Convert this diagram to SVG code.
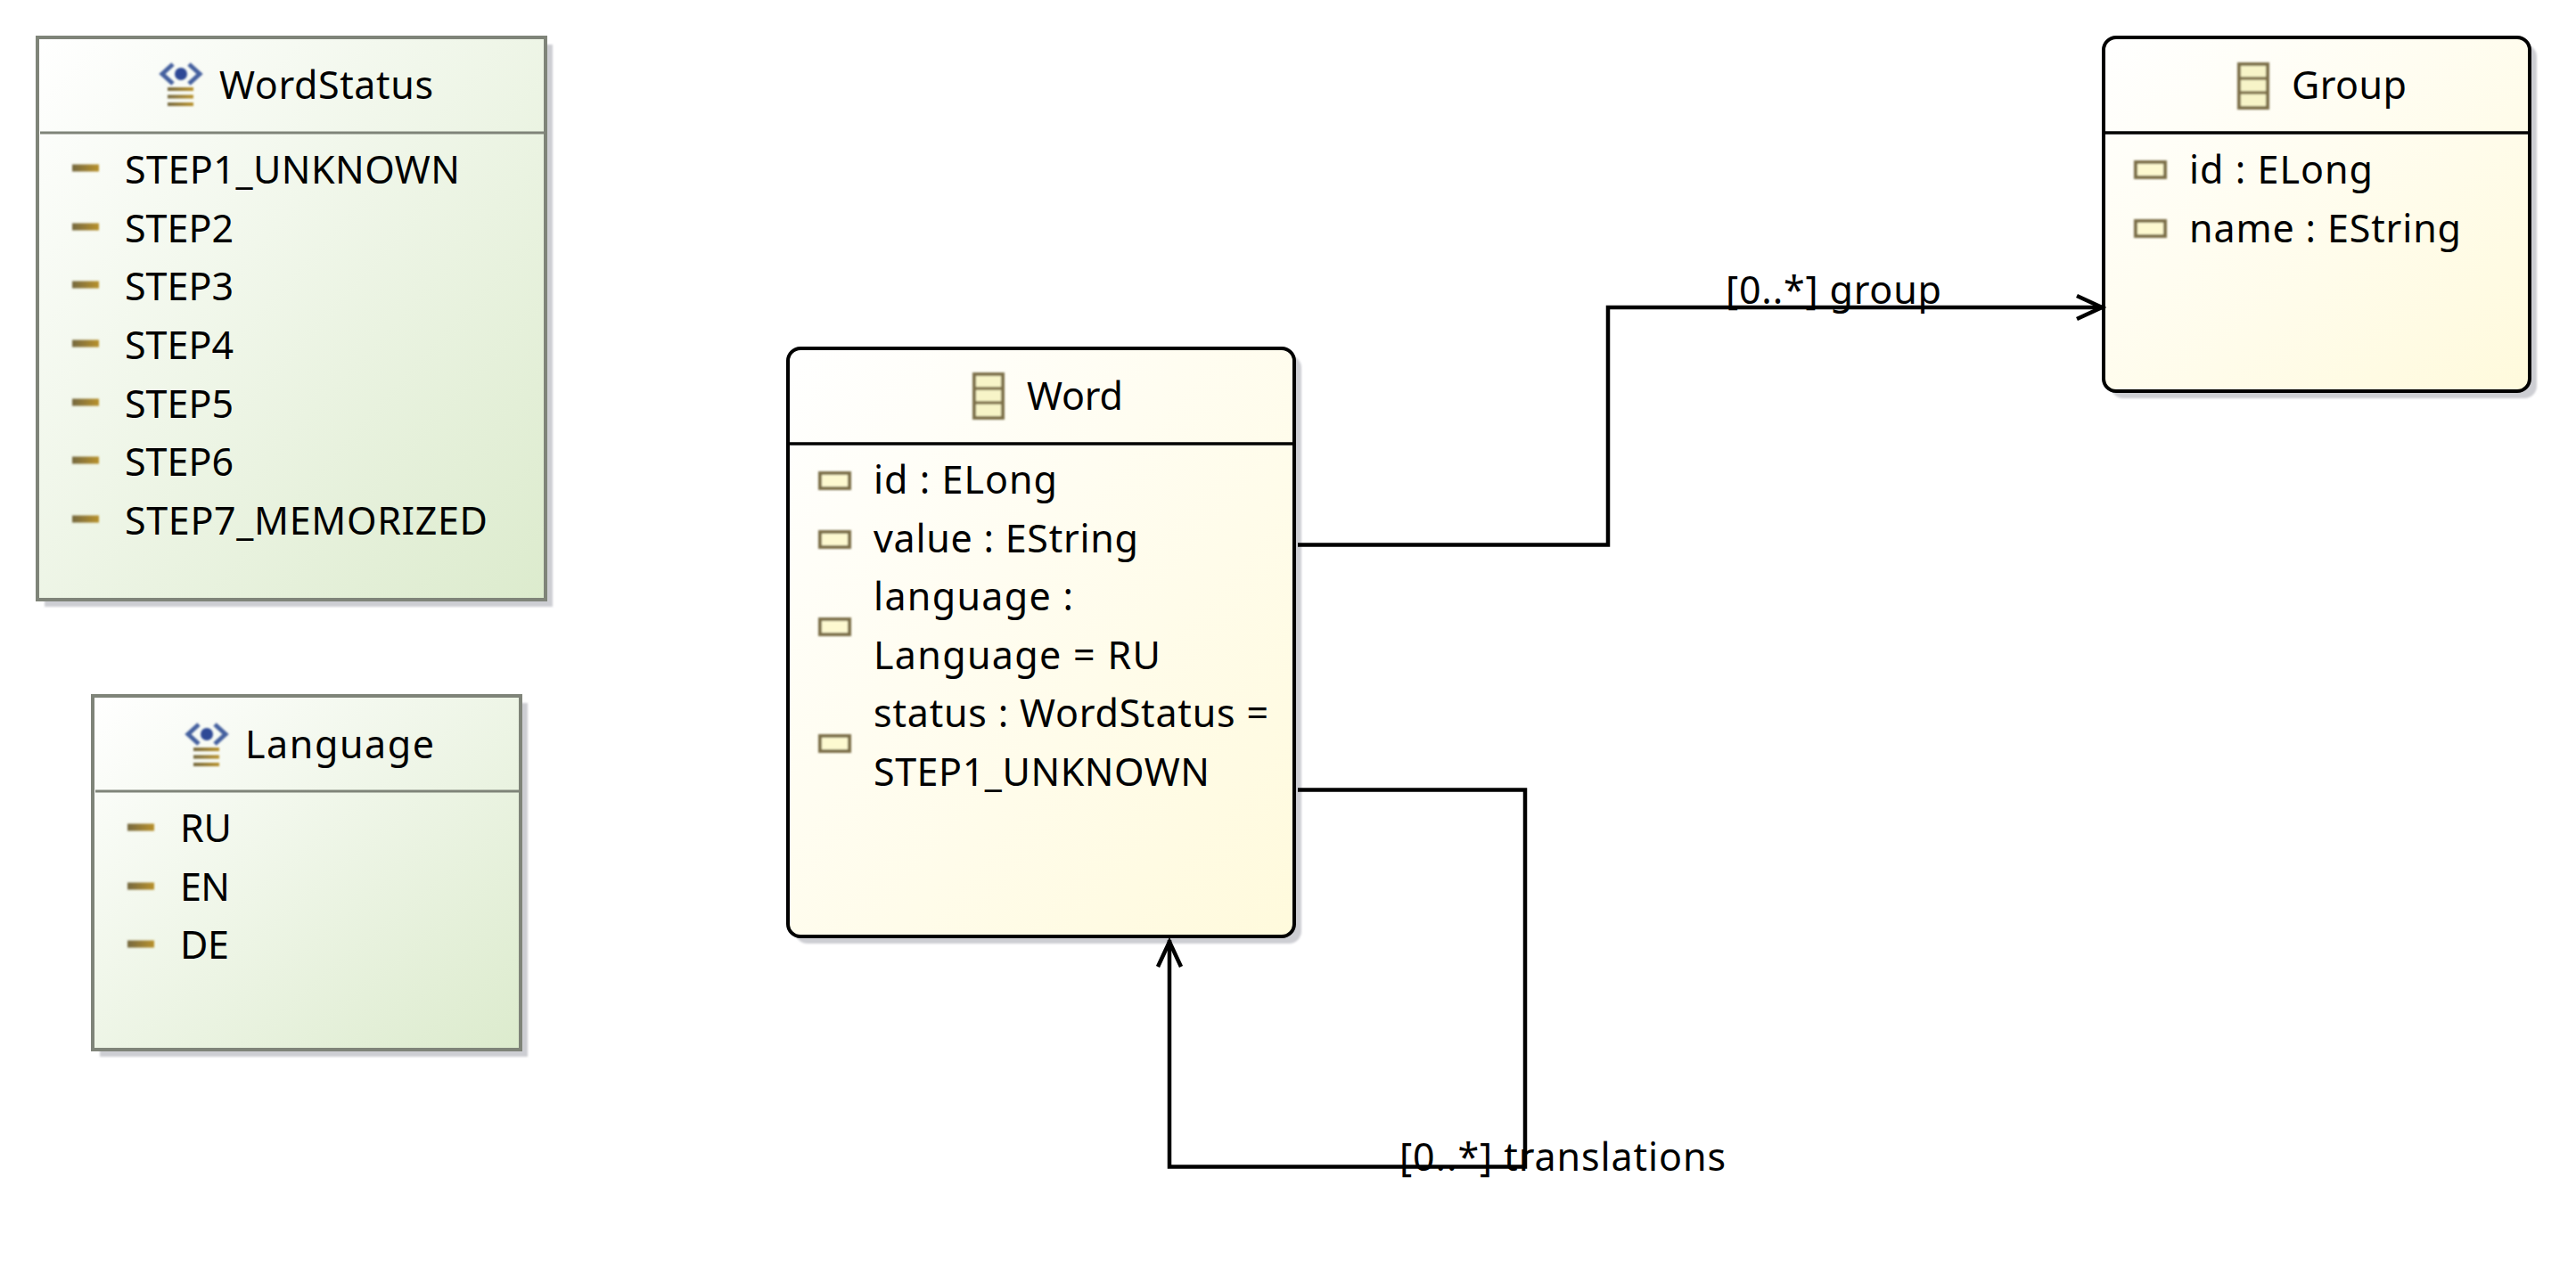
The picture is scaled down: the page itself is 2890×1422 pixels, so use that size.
<svg xmlns="http://www.w3.org/2000/svg" width="2890" height="1422" viewBox="0 0 2890 1422">
<style>
text{font-family:"Noto Sans","Open Sans",sans-serif;font-size:43px;fill:#000}
.shadow{fill:#cdced3}
.enum{fill:url(#green);stroke:#7f8479;stroke-width:4}
.cls{fill:url(#yellow);stroke:#000;stroke-width:4}
.dg{stroke:#7f8479;stroke-width:3}
.db{stroke:#000;stroke-width:3.5}
.conn{fill:none;stroke:#000;stroke-width:4.5}
</style>
<defs>
<linearGradient id="green" x1="0" y1="0" x2="1" y2="1"><stop offset="0" stop-color="#fff"/><stop offset="1" stop-color="#dcebcd"/></linearGradient>
<linearGradient id="yellow" x1="0" y1="0" x2="1" y2="1"><stop offset="0" stop-color="#fff"/><stop offset="1" stop-color="#fffadc"/></linearGradient>
<linearGradient id="gold" x1="0" y1="0" x2="1" y2="0"><stop offset="0" stop-color="#75683f"/><stop offset="1" stop-color="#b8912c"/></linearGradient>
<linearGradient id="goldUser" gradientUnits="userSpaceOnUse" x1="-15" y1="0" x2="14" y2="0"><stop offset="0" stop-color="#75683f"/><stop offset="1" stop-color="#b8912c"/></linearGradient>
<filter id="soft" x="-20%" y="-20%" width="140%" height="140%"><feGaussianBlur stdDeviation="0.9"/></filter>
<filter id="shblur" x="-5%" y="-5%" width="110%" height="110%"><feGaussianBlur stdDeviation="1"/></filter>
<g id="lit" filter="url(#soft)"><rect x="0" y="-0.500" width="30" height="8" fill="url(#gold)"/></g>
<g id="attr" filter="url(#soft)"><rect x="2" y="2" width="33" height="17" fill="#fdf9d0" stroke="#7d7048" stroke-width="4"/></g>
<g id="clsicon" filter="url(#soft)"><rect x="2" y="2" width="32" height="49" fill="#f7f4c8" stroke="#7d7048" stroke-width="4"/><path d="M2 18H34M2 34H34" stroke="#7d7048" stroke-width="3.500" fill="none"/></g>
<g id="enumicon" filter="url(#soft)"><circle cx="0" cy="0" r="7" fill="#2d4a96"/><path d="M-9 -11L-21 0L-9 11M9 -11L21 0L9 11" fill="none" stroke="#45609f" stroke-width="5"/><path d="M-15 17H14M-15 25.500H14M-15 34H14" stroke="url(#goldUser)" stroke-width="4" fill="none"/></g>
<marker id="open" markerUnits="userSpaceOnUse" markerWidth="36" markerHeight="32" refX="33" refY="16" orient="auto"><path d="M3 3L31 16L3 29" fill="none" stroke="#000" stroke-width="4.500"/></marker>
</defs>
<rect width="2890" height="1422" fill="#fff"/>
<g id="WordStatus">
<rect class="shadow" filter="url(#shblur)" x="50" y="50" width="570" height="631"/>
<rect class="enum" x="42" y="42" width="570" height="631"/>
<line class="dg" x1="45" x2="610" y1="149" y2="149"/>
<use href="#enumicon" x="203" y="83"/>
<text x="246" y="110.500" textLength="240">WordStatus</text>
<use href="#lit" x="81" y="185"/><text x="140" y="205.500" textLength="376">STEP1_UNKNOWN</text>
<use href="#lit" x="81" y="251"/><text x="140" y="271.500" textLength="122">STEP2</text>
<use href="#lit" x="81" y="316"/><text x="140" y="337" textLength="122">STEP3</text>
<use href="#lit" x="81" y="382"/><text x="140" y="402.500" textLength="122">STEP4</text>
<use href="#lit" x="81" y="448"/><text x="140" y="468.500" textLength="122">STEP5</text>
<use href="#lit" x="81" y="513"/><text x="140" y="534" textLength="122">STEP6</text>
<use href="#lit" x="81" y="579"/><text x="140" y="599.500" textLength="407">STEP7_MEMORIZED</text>
</g>
<g id="Language">
<rect class="shadow" filter="url(#shblur)" x="112" y="789" width="480" height="397"/>
<rect class="enum" x="104" y="781" width="480" height="397"/>
<line class="dg" x1="107" x2="582" y1="888" y2="888"/>
<use href="#enumicon" x="232" y="824"/>
<text x="275" y="850.500" textLength="212">Language</text>
<use href="#lit" x="143" y="925"/><text x="202" y="944.500" textLength="58">RU</text>
<use href="#lit" x="143" y="991"/><text x="202" y="1010.500" textLength="56">EN</text>
<use href="#lit" x="143" y="1056"/><text x="202" y="1076" textLength="55">DE</text>
</g>
<g id="Word">
<rect class="shadow" filter="url(#shblur)" x="892" y="399" width="568" height="660" rx="14"/>
<rect class="cls" x="884" y="391" width="568" height="660" rx="14"/>
<line class="db" x1="886" x2="1450" y1="498" y2="498"/>
<use href="#clsicon" x="1091" y="418"/>
<text x="1152" y="459.500" textLength="108">Word</text>
<use href="#attr" x="918" y="529"/><text x="980" y="553.500" textLength="206">id : ELong</text>
<use href="#attr" x="918" y="595"/><text x="980" y="619.500" textLength="297">value : EString</text>
<use href="#attr" x="918" y="693"/><text x="980" y="685" textLength="224">language :</text><text x="980" y="750.500" textLength="322">Language = RU</text>
<use href="#attr" x="918" y="824"/><text x="980" y="816" textLength="443">status : WordStatus =</text><text x="980" y="881.500" textLength="377">STEP1_UNKNOWN</text>
</g>
<g id="Group">
<rect class="shadow" filter="url(#shblur)" x="2368" y="50" width="478" height="397" rx="14"/>
<rect class="cls" x="2360" y="42" width="478" height="397" rx="14"/>
<line class="db" x1="2362" x2="2836" y1="149" y2="149"/>
<use href="#clsicon" x="2510" y="70"/>
<text x="2571" y="110.500" textLength="129">Group</text>
<use href="#attr" x="2394" y="180"/><text x="2456" y="205.500" textLength="206">id : ELong</text>
<use href="#attr" x="2394" y="246"/><text x="2456" y="271.500" textLength="305">name : EString</text>
</g>
<g id="connectors">
<path class="conn" marker-end="url(#open)" d="M1456 611.500H1804V345H2360"/>
<path class="conn" marker-end="url(#open)" d="M1456 886.500H1711V1309.500H1312V1055"/>
<text x="1936" y="341" textLength="242">[0..*] group</text>
<text x="1570" y="1314" textLength="366">[0..*] translations</text>
</g>
</svg>
